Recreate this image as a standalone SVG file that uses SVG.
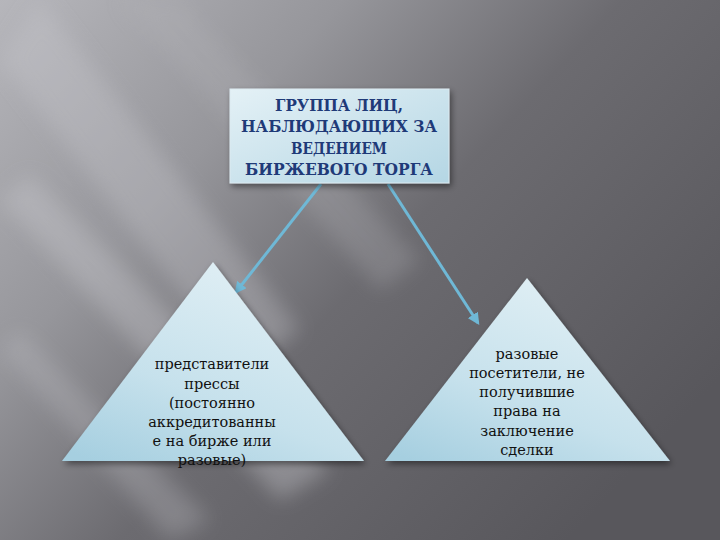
<svg xmlns="http://www.w3.org/2000/svg" width="720" height="540" viewBox="0 0 720 540">
<defs>
<linearGradient id="bg" x1="0" y1="0" x2="1" y2="0.7">
<stop offset="0" stop-color="#b6b6bb"/>
<stop offset="0.32" stop-color="#96969b"/>
<stop offset="0.58" stop-color="#6c6b70"/>
<stop offset="1" stop-color="#58575c"/>
</linearGradient>
<filter id="blur" x="-50%" y="-50%" width="200%" height="200%"><feGaussianBlur stdDeviation="10"/></filter>
<filter id="shadow" x="-20%" y="-20%" width="140%" height="140%"><feDropShadow dx="2" dy="3" stdDeviation="3" flood-color="#000" flood-opacity="0.45"/></filter>
<linearGradient id="boxFill" x1="0" y1="0" x2="1" y2="1">
<stop offset="0" stop-color="#e4f1f6"/>
<stop offset="1" stop-color="#b4d6e4"/>
</linearGradient>
<linearGradient id="triFill" x1="0.7" y1="0" x2="0.1" y2="1">
<stop offset="0" stop-color="#e2f0f5"/>
<stop offset="0.6" stop-color="#c6e1ec"/>
<stop offset="1" stop-color="#a6cfe0"/>
</linearGradient>
<marker id="arr" viewBox="0 0 10 10" refX="8" refY="5" markerWidth="4" markerHeight="4" orient="auto-start-reverse">
<path d="M0,0 L10,5 L0,10 z" fill="#6fb8d6"/>
</marker>
<style>
.conn{stroke:#6fb8d6;stroke-width:3;fill:none;}
.title{font-family:"DejaVu Serif","Liberation Serif",serif;font-weight:bold;font-size:17px;fill:#1f3a78;text-anchor:middle;}
.lbl{font-family:"DejaVu Serif","Liberation Serif",serif;font-size:14.5px;fill:#111;text-anchor:middle;}
</style>
</defs>
<rect width="720" height="540" fill="url(#bg)"/>
<g filter="url(#blur)" opacity="0.65">
<path d="M0,60 L40,0 L300,330 L240,370 Z" fill="#cacacf" opacity="0.5"/>
<path d="M0,200 L30,175 L330,470 L280,500 Z" fill="#c8c8cd" opacity="0.6"/>
<path d="M120,0 L180,0 L420,260 L380,290 Z" fill="#b4b4b9" opacity="0.45"/>
<path d="M0,350 L20,330 L210,520 L170,540 Z" fill="#bcbcc1" opacity="0.5"/>
</g>
<g id="connectors">
<line class="conn" x1="321" y1="184" x2="236" y2="292" marker-end="url(#arr)"/>
<line class="conn" x1="388" y1="184" x2="478" y2="323" marker-end="url(#arr)"/>
</g>
<g id="node-root">
<rect x="230" y="89" width="219" height="94" fill="url(#boxFill)" stroke="#dceaf0" stroke-width="1" filter="url(#shadow)"/>
<text class="title" x="339" y="111" textLength="128" lengthAdjust="spacingAndGlyphs">ГРУППА ЛИЦ,</text>
<text class="title" x="339" y="132" textLength="196" lengthAdjust="spacingAndGlyphs">НАБЛЮДАЮЩИХ ЗА</text>
<text class="title" x="339" y="154" textLength="96" lengthAdjust="spacingAndGlyphs">ВЕДЕНИЕМ</text>
<text class="title" x="339" y="175" textLength="188" lengthAdjust="spacingAndGlyphs">БИРЖЕВОГО ТОРГА</text>
</g>
<g id="node-press">
<polygon points="213,262 364,461 62,461" fill="url(#triFill)" filter="url(#shadow)"/>
<text class="lbl" x="212" y="369">представители</text>
<text class="lbl" x="212" y="389">прессы</text>
<text class="lbl" x="212" y="408">(постоянно</text>
<text class="lbl" x="212" y="427">аккредитованны</text>
<text class="lbl" x="212" y="446">е на бирже или</text>
<text class="lbl" x="212" y="465">разовые)</text>
</g>
<g id="node-visitors">
<polygon points="527,278 670,461 385,461" fill="url(#triFill)" filter="url(#shadow)"/>
<text class="lbl" x="527" y="359">разовые</text>
<text class="lbl" x="527" y="378">посетители, не</text>
<text class="lbl" x="527" y="397">получившие</text>
<text class="lbl" x="527" y="416">права на</text>
<text class="lbl" x="527" y="436">заключение</text>
<text class="lbl" x="527" y="455">сделки</text>
</g>
</svg>
